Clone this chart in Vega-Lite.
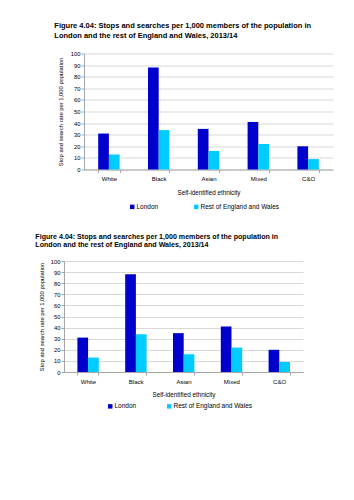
{
  "$schema": "https://vega.github.io/schema/vega-lite/v6.json",
  "padding": {"left": 35, "top": 21.5, "right": 5, "bottom": 5},
  "background": "white",
  "datasets": {
    "stops": [
      {"ethnicity": "White", "area": "London", "rate": 31},
      {"ethnicity": "White", "area": "Rest of England and Wales", "rate": 13},
      {"ethnicity": "Black", "area": "London", "rate": 88},
      {"ethnicity": "Black", "area": "Rest of England and Wales", "rate": 34},
      {"ethnicity": "Asian", "area": "London", "rate": 35},
      {"ethnicity": "Asian", "area": "Rest of England and Wales", "rate": 16},
      {"ethnicity": "Mixed", "area": "London", "rate": 41},
      {"ethnicity": "Mixed", "area": "Rest of England and Wales", "rate": 22},
      {"ethnicity": "C&O", "area": "London", "rate": 20},
      {"ethnicity": "C&O", "area": "Rest of England and Wales", "rate": 9}
    ],
    "empty": []
  },
  "config": {
    "view": {"stroke": null},
    "font": "Liberation Sans",
    "axis": {
      "labelColor": "#000000",
      "titleColor": "#000000",
      "titleFontWeight": "normal",
      "domainColor": "#a6a6a6",
      "tickColor": "#a6a6a6",
      "tickSize": 3,
      "gridColor": "#d9d9d9"
    },
    "legend": {"labelColor": "#000000"}
  },
  "spacing": 21.5,
  "resolve": {"scale": {"color": "independent"}, "legend": {"color": "independent"}},
  "vconcat": [
    {
      "bounds": "flush",
      "spacing": 10,
      "resolve": {"scale": {"color": "independent"}, "legend": {"color": "independent"}},
      "hconcat": [
        {
          "width": 10,
          "height": 10,
          "data": {"name": "empty"},
          "mark": {"type": "point", "opacity": 0},
          "encoding": {}
        },
        {
          "width": 249,
          "height": 116,
          "title": {
            "text": ["Figure 4.04: Stops and searches per 1,000 members of the population in", "London and the rest of England and Wales, 2013/14"],
            "anchor": "start",
            "fontSize": 7.5,
            "fontWeight": "bold",
            "lineHeight": 10,
            "offset": 11,
            "dx": -3,
            "color": "#000000"
          },
          "data": {"name": "stops"},
          "mark": {"type": "bar"},
          "encoding": {
            "x": {
              "field": "ethnicity",
              "type": "nominal",
              "sort": ["White", "Black", "Asian", "Mixed", "C&O"],
              "scale": {"paddingInner": 0.57, "paddingOuter": 0.285},
              "axis": {
                "title": "Self-identified ethnicity",
                "labelAngle": 0,
                "labelFontSize": 6,
                "labelPadding": 3,
                "titleFontSize": 6.3,
                "titlePadding": 8,
                "tickBand": "extent",
                "grid": false
              }
            },
            "xOffset": {"field": "area", "type": "nominal", "sort": ["London", "Rest of England and Wales"]},
            "y": {
              "field": "rate",
              "type": "quantitative",
              "scale": {"domain": [0, 100]},
              "axis": {
                "title": "Stop and search rate per 1,000 population",
                "values": [0, 10, 20, 30, 40, 50, 60, 70, 80, 90, 100],
                "labelFontSize": 5.8,
                "labelPadding": 1,
                "titleFontSize": 5.8,
                "titlePadding": 7,
                "grid": true
              }
            },
            "color": {
              "field": "area",
              "type": "nominal",
              "scale": {"domain": ["London", "Rest of England and Wales"], "range": ["#0000CC", "#00CCFF"]},
              "legend": {
                "title": null,
                "orient": "none",
                "direction": "horizontal",
                "legendX": 45,
                "legendY": 150,
                "padding": 0,
                "symbolType": "square",
                "symbolSize": 20,
                "symbolStrokeWidth": 0,
                "labelFontSize": 6.5,
                "labelOffset": 1,
                "columnPadding": 34
              }
            }
          }
        }
      ]
    },
    {
      "width": 239,
      "height": 111,
      "title": {
        "text": ["Figure 4.04: Stops and searches per 1,000 members of the population in", "London and the rest of England and Wales, 2013/14"],
        "anchor": "start",
        "fontSize": 7.1,
        "fontWeight": "bold",
        "lineHeight": 8,
        "offset": 10,
        "dx": -3,
        "color": "#000000"
      },
      "data": {"name": "stops"},
      "mark": {"type": "bar"},
      "encoding": {
        "x": {
          "field": "ethnicity",
          "type": "nominal",
          "sort": ["White", "Black", "Asian", "Mixed", "C&O"],
          "scale": {"paddingInner": 0.56, "paddingOuter": 0.28},
          "axis": {
            "title": "Self-identified ethnicity",
            "labelAngle": 0,
            "labelFontSize": 6,
            "labelPadding": 3,
            "titleFontSize": 6.3,
            "titlePadding": 7,
            "tickBand": "extent",
            "grid": false
          }
        },
        "xOffset": {"field": "area", "type": "nominal", "sort": ["London", "Rest of England and Wales"]},
        "y": {
          "field": "rate",
          "type": "quantitative",
          "scale": {"domain": [0, 100]},
          "axis": {
            "title": "Stop and search rate per 1,000 population",
            "values": [0, 10, 20, 30, 40, 50, 60, 70, 80, 90, 100],
            "labelFontSize": 5.8,
            "labelPadding": 1,
            "titleFontSize": 5.8,
            "titlePadding": 6,
            "grid": true
          }
        },
        "color": {
          "field": "area",
          "type": "nominal",
          "scale": {"domain": ["London", "Rest of England and Wales"], "range": ["#0000CC", "#00CCFF"]},
          "legend": {
            "title": null,
            "orient": "none",
            "direction": "horizontal",
            "legendX": 43,
            "legendY": 142,
            "padding": 0,
            "symbolType": "square",
            "symbolSize": 20,
            "symbolStrokeWidth": 0,
            "labelFontSize": 6.5,
            "labelOffset": 1,
            "columnPadding": 29
          }
        }
      }
    }
  ]
}
